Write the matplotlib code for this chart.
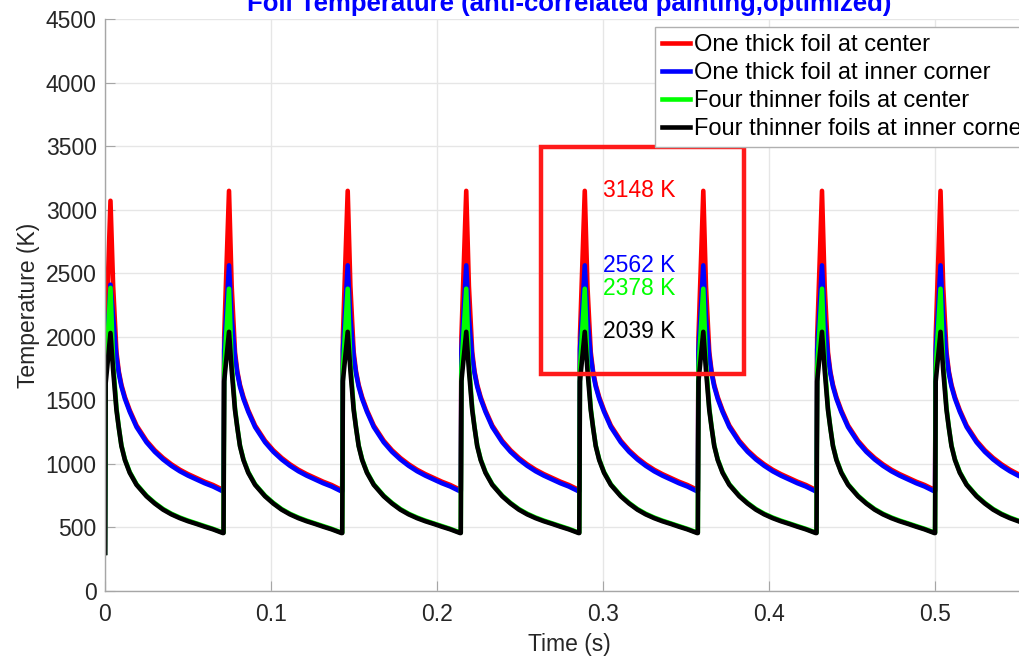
#!/usr/bin/env python3
import numpy as np
import matplotlib
matplotlib.use("Agg")
import matplotlib.pyplot as plt
from matplotlib.patches import Rectangle

plt.rcParams["font.family"] = ["Liberation Sans", "DejaVu Sans"]

# pulse start times (s) and one steady cycle
cycle_starts = [0.0, 0.0714, 0.1429, 0.2143, 0.2857, 0.3571, 0.4286, 0.5000]
offsets = [0.0, 0.0004, 0.0033, 0.0049, 0.0069, 0.0083, 0.0099, 0.0120, 0.0149,
           0.0190, 0.0250, 0.0300, 0.0350, 0.0400, 0.0451, 0.0500, 0.0553,
           0.0600, 0.0651, 0.0710]
red_cycle = [792, 2000, 3148, 2400, 1880, 1728, 1622, 1525, 1422, 1302, 1182,
             1107, 1047, 997, 954, 920, 888, 860, 834, 796]
blue_cycle = [784, 1900, 2562, 2150, 1844, 1713, 1608, 1512, 1410, 1290, 1170,
              1095, 1035, 985, 942, 908, 876, 848, 822, 784]
green_cycle = [460, 1750, 2378, 1800, 1440, 1290, 1146, 1036, 936, 840, 750,
               693, 645, 608, 578, 554, 531, 510, 489, 460]
black_cycle = [456, 1650, 2039, 1739, 1424, 1285, 1140, 1030, 930, 835, 745,
               688, 640, 603, 573, 549, 527, 506, 485, 456]

# first pulse starts from room temperature with lower peaks
first_red = [300, 1900, 3070]
first_blue = [300, 1800, 2410]
first_green = [300, 1700, 2385]
first_black = [300, 1634, 2030]

peak_labels = ["3148 K", "2562 K", "2378 K", "2039 K"]
peak_values = [3148, 2562, 2378, 2039]

names = ["One thick foil at center", "One thick foil at inner corner",
         "Four thinner foils at center", "Four thinner foils at inner corner"]
colors = ["#ff0000", "#0000ff", "#00ff00", "#000000"]


def build(cycle, first):
    t, v = [], []
    for k, s in enumerate(cycle_starts):
        vals = list(cycle)
        if k == 0:
            vals[:3] = first
        t.extend(s + o for o in offsets)
        v.extend(vals)
    return np.array(t), np.array(v)


series = [build(red_cycle, first_red), build(blue_cycle, first_blue),
          build(green_cycle, first_green), build(black_cycle, first_black)]

fig = plt.figure(figsize=(10.2, 6.56), dpi=100)
ax = fig.add_axes([0.10294, 0.09909, 0.9098, 0.87195])

for (t, v), c, n in zip(series, colors, names):
    ax.plot(t, v, color=c, lw=3.3, label=n, solid_joinstyle="round")

ax.set_xlim(0, 0.559)
ax.set_ylim(0, 4500)
ax.set_xticks(np.arange(0, 0.51, 0.1))
ax.set_xticklabels(["0", "0.1", "0.2", "0.3", "0.4", "0.5"])
ax.set_yticks(np.arange(0, 4501, 500))
ax.grid(True, color="#e6e6e6", lw=1.0)
ax.set_axisbelow(True)
for side in ["top", "right"]:
    ax.spines[side].set_visible(False)
for side in ["left", "bottom"]:
    ax.spines[side].set_color("#a6a6a6")
    ax.spines[side].set_linewidth(1.0)
ax.tick_params(direction="in", length=7, color="#a6a6a6", labelsize=16.5,
               labelcolor="#262626")
ax.tick_params(axis="x", pad=9)
ax.tick_params(axis="y", pad=6)

ax.set_xlabel("Time (s)", fontsize=16.5, color="#262626", labelpad=5)
ax.set_ylabel("Temperature (K)", fontsize=16.5, color="#262626", labelpad=4)
fig.text(569 / 1020, 1 - 11 / 656, "Foil Temperature (anti-correlated painting,optimized)",
         color="#0000ff", fontsize=18.5, fontweight="bold", ha="center", va="baseline")

for lab, val, c in zip(peak_labels, peak_values, colors):
    ax.text(0.300, val, lab, color=c, fontsize=16.5, va="center", ha="left")

ax.add_patch(Rectangle((0.2627, 1706), 0.1223, 1785, fill=False,
                       edgecolor="#ff1a1a", lw=3.2, clip_on=False, zorder=5))

leg = ax.legend(loc="upper left", bbox_to_anchor=(655 / 1020, 1 - 27 / 656),
                bbox_transform=fig.transFigure, borderaxespad=0, fontsize=17,
                frameon=True, fancybox=False, framealpha=1, edgecolor="#b0b0b0",
                borderpad=0.3, labelspacing=0.25, handlelength=1.19,
                handletextpad=0.17)
leg.get_frame().set_linewidth(1.0)

fig.savefig("out.png", dpi=100)
